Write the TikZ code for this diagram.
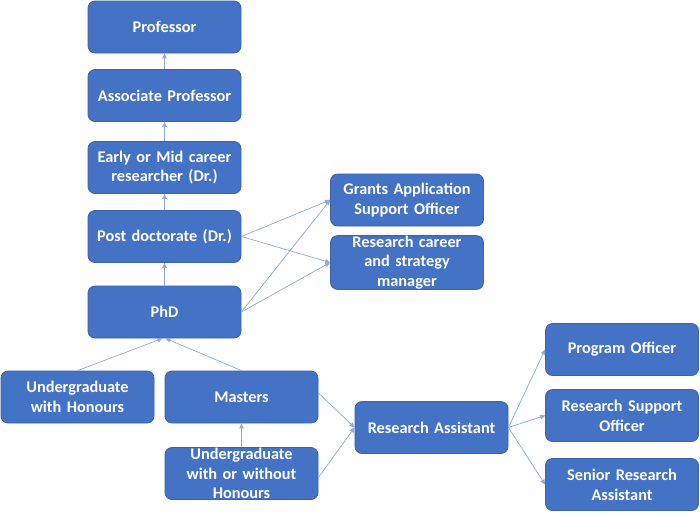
\documentclass[tikz,border=0pt]{standalone}
\usepackage{fontspec}
\setmainfont{Carlito}
\usetikzlibrary{arrows.meta}
\definecolor{boxfill}{HTML}{4472C4}
\definecolor{boxline}{HTML}{3A63AC}
\definecolor{arr}{HTML}{8FAADC}
\tikzset{
  box/.style={draw=boxline, line width=0.8pt, fill=boxfill, rounded corners=7pt,
    minimum width=153pt, minimum height=52pt, text width=150pt, align=center,
    text=white, font=\fontsize{16.3}{19.8}\selectfont\bfseries, inner sep=0pt},
  conn/.style={draw=arr, line width=0.7pt, -{Triangle[length=5pt,width=4.5pt]}}
}
\begin{document}
\begin{tikzpicture}[x=1pt,y=-1pt]
\useasboundingbox (0,0) rectangle (700,515);
\node[box] (prof) at (164.5,27) {Professor};
\node[box] (assoc) at (164.5,95.5) {Associate Professor};
\node[box] (early) at (164.5,167.5) {Early or Mid career\\researcher (Dr.)};
\node[box] (post) at (164.5,236.5) {Post doctorate (Dr.)};
\node[box] (phd) at (164.5,312) {PhD};
\node[box] (ugh) at (77.5,397) {Undergraduate\\with Honours};
\node[box] (mast) at (241.5,397) {Masters};
\node[box] (ugw) at (241.5,473.5) {Undergraduate\\with or without\\Honours};
\node[box] (ra) at (431.5,427.5) {Research Assistant};
\node[box] (grant) at (407,200) {Grants Application\\Support Officer};
\node[box] (rcs) at (407,262.5) {Research career\\and strategy\\manager};
\node[box] (po) at (622,349.5) {Program Officer};
\node[box] (rso) at (622,415.5) {Research Support\\Officer};
\node[box] (sra) at (622,484.5) {Senior Research\\Assistant};
\draw[conn] (assoc.north) -- (prof.south);
\draw[conn] (early.north) -- (assoc.south);
\draw[conn] (post.north) -- (early.south);
\draw[conn] (phd.north) -- (post.south);
\draw[conn] (ugh.north) -- ([xshift=-2pt]phd.south);
\draw[conn] (mast.north) -- ([xshift=1pt]phd.south);
\draw[conn] (ugw.north) -- (mast.south);
\draw[conn] ([yshift=4pt]mast.east) -- (ra.west);
\draw[conn] ([yshift=-4pt]ugw.east) -- (ra.west);
\draw[conn] (post.east) -- (grant.west);
\draw[conn] (post.east) -- (rcs.west);
\draw[conn] (phd.east) -- (grant.west);
\draw[conn] (phd.east) -- (rcs.west);
\draw[conn] (ra.east) -- (po.west);
\draw[conn] (ra.east) -- (rso.west);
\draw[conn] (ra.east) -- (sra.west);
\end{tikzpicture}
\end{document}
